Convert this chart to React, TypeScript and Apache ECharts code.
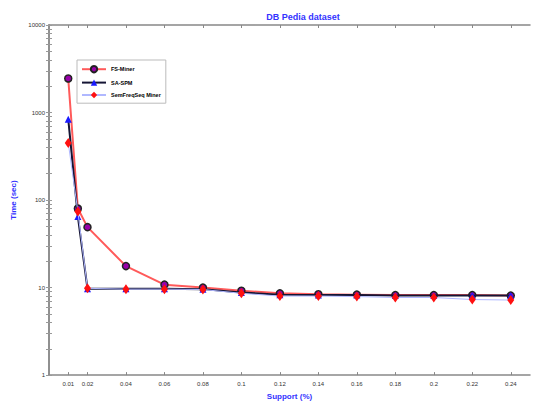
import React, { useEffect, useRef } from "react";
import * as echarts from "echarts";

const supports = [0.01, 0.015, 0.02, 0.04, 0.06, 0.08, 0.1, 0.12, 0.14, 0.16, 0.18, 0.2, 0.22, 0.24];
const fsMiner = [2450, 80, 49, 17.6, 10.8, 10, 9.2, 8.6, 8.4, 8.3, 8.2, 8.2, 8.2, 8.1];
const saSpm = [840, 65, 9.7, 9.7, 9.7, 9.6, 8.8, 8.3, 8.2, 8.2, 8.1, 8.1, 8.1, 8.1];
const semFreq = [450, 74, 9.8, 9.6, 9.6, 9.5, 8.6, 8.0, 8.0, 7.9, 7.7, 7.7, 7.3, 7.2];
const xTicks = [0.01, 0.02, 0.04, 0.06, 0.08, 0.1, 0.12, 0.14, 0.16, 0.18, 0.2, 0.22, 0.24];
const xTickLabels = ["0.01", "0.02", "0.04", "0.06", "0.08", "0.1", "0.12", "0.14", "0.16", "0.18", "0.2", "0.22", "0.24"];
const yMajor = [1, 10, 100, 1000, 10000];
const yMinor = [2, 3, 4, 5, 6, 7, 8, 9, 20, 30, 40, 50, 60, 70, 80, 90, 200, 300, 400, 500, 600, 700, 800, 900, 2000, 3000, 4000, 5000, 6000, 7000, 8000, 9000];

export default function App() {
  const ref = useRef<HTMLDivElement>(null);
  useEffect(() => {
    if (!ref.current) return;
    const chart = echarts.init(ref.current, null, { renderer: "svg" });
    const pair = (ys: number[]) => supports.map((x, i) => [x, ys[i]]);
    const axisLine = { show: true, lineStyle: { color: "#888", width: 1.5 } };
    const font = "Liberation Sans";
    const yTicks = [...yMajor, ...yMinor].sort((a, b) => a - b);
    chart.setOption({
      animation: false,
      backgroundColor: "#fff",
      title: {
        text: "DB Pedia dataset",
        left: 298,
        textAlign: "center",
        top: 7,
        textStyle: { color: "#3333ff", fontSize: 9, fontWeight: "bold", fontFamily: font },
      },
      grid: { left: 49, right: 8, top: 25, bottom: 27 },
      legend: {
        left: 77,
        top: 60,
        orient: "vertical",
        backgroundColor: "#fff",
        borderColor: "#bbb",
        borderWidth: 1,
        padding: [5, 5, 5, 4],
        itemGap: 6,
        itemWidth: 24,
        itemHeight: 8,
        textStyle: { fontSize: 5.5, color: "#000", fontFamily: font, fontWeight: "bold" },
        data: ["FS-Miner", "SA-SPM", "SemFreqSeq Miner"],
      },
      xAxis: [
        {
          type: "value",
          min: 0,
          max: 0.25,
          name: "Support (%)",
          nameLocation: "middle",
          nameGap: 16,
          nameTextStyle: { color: "#3333ff", fontSize: 8, fontWeight: "bold", fontFamily: font },
          axisLine,
          splitLine: { show: false },
          axisTick: { inside: true, length: 3, customValues: xTicks, lineStyle: { color: "#888" } },
          axisLabel: {
            customValues: xTicks,
            formatter: (v: number) => {
              const i = xTicks.findIndex((t) => Math.abs(t - v) < 1e-9);
              return i >= 0 ? xTickLabels[i] : "";
            },
            fontSize: 6,
            color: "#333",
            margin: 6,
            fontFamily: font,
          },
        },
        {
          type: "value",
          position: "top",
          min: 0,
          max: 0.25,
          axisLine,
          splitLine: { show: false },
          axisTick: { inside: true, length: 3, customValues: xTicks, lineStyle: { color: "#888" } },
          axisLabel: { show: false },
        },
      ],
      yAxis: [
        {
          type: "log",
          logBase: 10,
          min: 1,
          max: 10000,
          name: "Time (sec)",
          nameLocation: "middle",
          nameGap: 28,
          nameTextStyle: { color: "#3333ff", fontSize: 8, fontWeight: "bold", fontFamily: font },
          axisLine,
          splitLine: { show: false },
          axisTick: { inside: true, length: 3, customValues: yTicks, lineStyle: { color: "#999" } },
          axisLabel: {
            customValues: yMajor,
            formatter: (v: number) => String(Math.round(v)),
            fontSize: 6,
            color: "#333",
            margin: 4,
            fontFamily: font,
          },
        },
        {
          type: "log",
          logBase: 10,
          min: 1,
          max: 10000,
          position: "right",
          axisLine,
          splitLine: { show: false },
          axisTick: { inside: true, length: 3, customValues: yTicks, lineStyle: { color: "#999" } },
          axisLabel: { show: false },
        },
      ],
      series: [
        {
          name: "FS-Miner",
          type: "line",
          data: pair(fsMiner),
          symbol: "circle",
          symbolSize: 7,
          lineStyle: { color: "#ff5a5a", width: 2 },
          itemStyle: { color: "#9900aa", borderColor: "#222", borderWidth: 1.5 },
          z: 2,
        },
        {
          name: "SA-SPM",
          type: "line",
          data: pair(saSpm),
          symbol: "triangle",
          symbolSize: 7,
          lineStyle: { color: "#151535", width: 2 },
          itemStyle: { color: "#1a1aff" },
          z: 3,
        },
        {
          name: "SemFreqSeq Miner",
          type: "line",
          data: pair(semFreq),
          symbol: "diamond",
          symbolSize: [7, 10],
          lineStyle: { color: "#b0b8ff", width: 1 },
          itemStyle: { color: "#ff1010" },
          z: 4,
        },
      ],
    });
    return () => chart.dispose();
  }, []);
  return <div ref={ref} style={{ width: 538, height: 405, position: "absolute", left: 0, top: 0 }} />;
}
